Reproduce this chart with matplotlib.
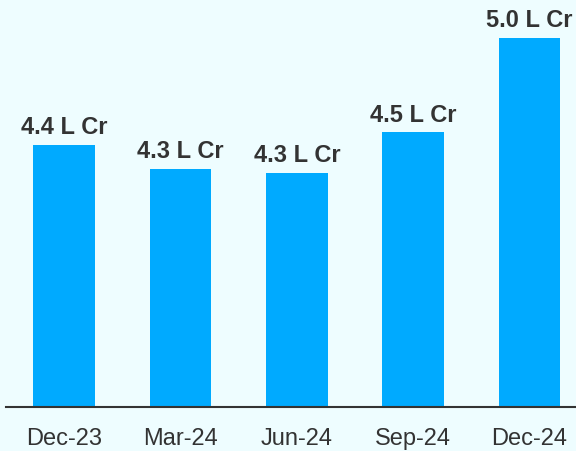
import numpy as np
import matplotlib.pyplot as plt

quarters = ["Dec-23", "Mar-24", "Jun-24", "Sep-24", "Dec-24"]
values = [4.40, 4.27, 4.25, 4.47, 4.98]
labels = ["4.4 L Cr", "4.3 L Cr", "4.3 L Cr", "4.5 L Cr", "5.0 L Cr"]

bg = "#EEFDFF"
plt.rcParams['font.family'] = ['Liberation Sans', 'DejaVu Sans']

fig = plt.figure(figsize=(5.76, 4.51), dpi=100, facecolor=bg)
ax = fig.add_axes([6/576, 44/451, 570/576, 407/451], facecolor=bg)

x = np.arange(len(quarters))
base = 2.98
ax.bar(x, np.array(values) - base, bottom=base, width=0.53, color="#00AAFF")

for xi, v, lab in zip(x, values, labels):
    ax.annotate(lab, (xi, v), xytext=(0, 4), textcoords="offset points",
                ha="center", va="bottom", fontsize=17, fontweight="bold", color="#333333")

ax.set_xlim(-0.5, 4.4)
ax.set_ylim(base, base + 407/184.5)
ax.set_xticks(x)
ax.set_xticklabels(quarters, fontsize=17, color="#333333")
ax.tick_params(axis="x", length=0, pad=15)
ax.set_yticks([])
for s in ["top", "right", "left"]:
    ax.spines[s].set_visible(False)
ax.spines["bottom"].set_color("#333333")
ax.spines["bottom"].set_linewidth(1.5)

fig.savefig("out.png", dpi=100, facecolor=bg)
